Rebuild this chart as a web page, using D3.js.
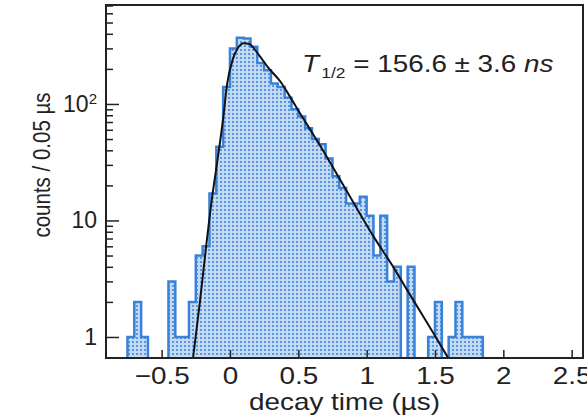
<!DOCTYPE html>
<meta charset="utf-8">
<head>
	<title>Decay time</title>
</head>

<style>
	body { margin: 0; background: #fff; }
	text { font-family: "Liberation Sans", Arial, sans-serif; fill: #222; }
</style>

<body>
	<svg width="587" height="419"></svg>

	<script src="https://d3js.org/d3.v7.min.js"></script>
	<script>
// histogram, 0.05 us bins starting at -0.75 us
var binStart = -0.75, binWidth = 0.05;
var counts = [1, 2, 1, 0, 0, 0, 3, 1, 1, 2,
	5, 6, 17, 43, 140, 300, 370, 365, 310, 225,
	195, 150, 140, 113, 90, 78, 62, 50, 45, 34,
	24, 19, 14, 14, 16, 11, 5, 11, 3, 4,
	0, 4, 0, 0, 1, 2, 0, 1, 2, 1,
	1, 1];

// fitted curve
var fitT = [-0.27, -0.22, -0.175, -0.13, -0.1, -0.05, -0.02, 0.02, 0.06, 0.1,
	0.14, 0.2, 0.28, 0.37, 0.44, 0.51, 0.6, 0.68, 0.8, 0.95,
	1.05, 1.2, 1.29, 1.4, 1.49, 1.6];
var fitCounts = [0.66, 2.0, 5.9, 16, 28, 75, 150, 240, 305, 332,
	328, 275, 205, 155, 115, 84, 57, 40, 23, 11.5,
	7.3, 3.9, 2.6, 1.6, 1.07, 0.65];

var xTicks = [-0.5, 0, 0.5, 1, 1.5, 2, 2.5];
var xTickLabels = ["\u22120.5", "0", "0.5", "1", "1.5", "2", "2.5"];
var yTicks = [1, 10, 100];
var yMinor = [2, 3, 4, 5, 6, 7, 8, 9, 20, 30, 40, 50, 60, 70, 80, 90, 200, 300, 400, 500, 600, 700];

var mLeft = 106, mRight = 583, mTop = 5, mBottom = 358;
var stretch = 1.16;

var svg = d3.select('svg');

var x = d3.scaleLinear().domain([-0.907, 2.583]).range([mLeft, mRight]);
var y = d3.scaleLog().domain([0.66, 707]).range([mBottom, mTop]);

// fill pattern
var pat = svg.append('defs').append('pattern')
	.attr('id', 'dots')
	.attr('patternUnits', 'userSpaceOnUse')
	.attr('width', 4).attr('height', 4);
pat.append('rect').attr('width', 4).attr('height', 4).attr('fill', '#c3daf4');
pat.append('rect').attr('x', 0).attr('y', 1).attr('width', 2).attr('height', 2).attr('fill', '#5b96dd');

// histogram runs of non-empty bins
var runs = [], cur = null;
counts.forEach(function(c, i) {
	if (c > 0) {
		if (!cur) { cur = []; runs.push(cur); }
		cur.push({lo: binStart + i * binWidth, hi: binStart + (i + 1) * binWidth, c: c});
	} else cur = null;
});

function runPath(r) {
	var p = 'M' + x(r[0].lo) + ',' + mBottom;
	r.forEach(function(b) {
		p += 'L' + x(b.lo) + ',' + y(b.c) + 'L' + x(b.hi) + ',' + y(b.c);
	});
	p += 'L' + x(r[r.length - 1].hi) + ',' + mBottom;
	return p;
}

svg.selectAll('path.hist')
	.data(runs)
	.enter().append('path')
	.attr('class', 'hist')
	.attr('d', runPath)
	.attr('fill', 'url(#dots)')
	.attr('stroke', '#3a82d8')
	.attr('stroke-width', 2.5)
	.attr('stroke-linejoin', 'miter');

// fit
var line = d3.line()
	.x(function(d) {return x(d[0]);})
	.y(function(d) {return y(d[1]);})
	.curve(d3.curveMonotoneX);

svg.append('path')
	.attr('d', line(d3.zip(fitT, fitCounts)))
	.attr('fill', 'none')
	.attr('stroke', '#111')
	.attr('stroke-width', 2);

// axes
var xAxis = svg.append('g')
	.attr('transform', 'translate(0,' + mBottom + ')')
	.call(d3.axisBottom(x).tickValues(xTicks)
		.tickFormat(function(d, i) {return xTickLabels[i];})
		.tickSize(-8).tickPadding(9));
xAxis.select('.domain').remove();
xAxis.selectAll('line').attr('stroke', '#222').attr('stroke-width', 1.5);
xAxis.selectAll('text')
	.style('font-size', '24px')
	.attr('fill', '#222')
	.attr('transform', 'scale(' + stretch + ',1)');

var yAxis = svg.append('g')
	.attr('transform', 'translate(' + mLeft + ',0)')
	.call(d3.axisLeft(y).tickValues(yTicks).tickSize(-13).tickPadding(9).tickFormat(''));
yAxis.select('.domain').remove();
yAxis.selectAll('line').attr('stroke', '#222').attr('stroke-width', 1.5);
yAxis.selectAll('.tick text').each(function(d) {
	var t = d3.select(this).style('font-size', '23px').attr('fill', '#222');
	if (d === 100) {
		t.append('tspan').text('10');
		t.append('tspan').text('2').style('font-size', '15px').attr('dy', '-0.5em');
	} else t.text(d);
});

var yMinorAxis = svg.append('g')
	.attr('transform', 'translate(' + mLeft + ',0)')
	.call(d3.axisLeft(y).tickValues(yMinor).tickSize(-7).tickFormat(''));
yMinorAxis.select('.domain').remove();
yMinorAxis.selectAll('line').attr('stroke', '#222').attr('stroke-width', 1.5);

// frame
svg.append('rect')
	.attr('x', mLeft).attr('y', mTop)
	.attr('width', mRight - mLeft).attr('height', mBottom - mTop)
	.attr('fill', 'none')
	.attr('stroke', '#222')
	.attr('stroke-width', 2);

// labels
svg.append('text')
	.attr('transform', 'translate(' + ((mLeft + mRight) / 2) + ',410) scale(' + stretch + ',1)')
	.attr('text-anchor', 'middle')
	.style('font-size', '24px')
	.text('decay time (\u00b5s)');

svg.append('text')
	.attr('transform', 'translate(50,165) rotate(-90) scale(1,' + stretch + ')')
	.attr('text-anchor', 'middle')
	.style('font-size', '20.5px')
	.text('counts / 0.05 \u00b5s');

var ann = svg.append('text')
	.attr('transform', 'translate(302,72) scale(' + stretch + ',1)')
	.style('font-size', '24px');
ann.append('tspan').text('T').style('font-style', 'italic');
ann.append('tspan').text('1/2').style('font-size', '15px').attr('dy', 6).attr('dx', 2);
ann.append('tspan').text(' = 156.6 \u00b1 3.6 ').attr('dy', -6);
ann.append('tspan').text('ns').style('font-style', 'italic');
	</script>
</body>
</html>
